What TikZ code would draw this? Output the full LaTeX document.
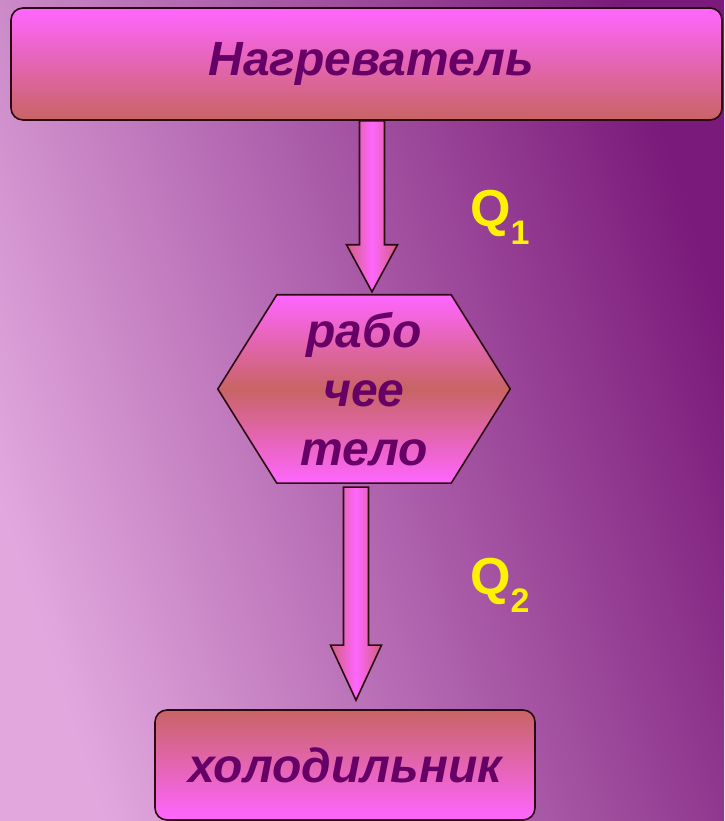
\documentclass[tikz,border=0pt]{standalone}
\usepackage{fontspec}
\setmainfont{Liberation Sans}
\usepackage{tikz}
\usetikzlibrary{positioning, calc, backgrounds}

\definecolor{pinkhi}{HTML}{FF66FF}
\definecolor{salmon}{HTML}{C86464}
\definecolor{armedge}{HTML}{D0607A}
\definecolor{rim}{HTML}{2B0A12}
\definecolor{ink}{HTML}{660066}
\definecolor{bglight}{HTML}{E2A8DE}
\definecolor{bgdark}{HTML}{7A1A7A}

\newcommand{\fatarrow}[3]{%
	\shade[fat] let \p1=(#1), \p2=(#2) in
	(\x1-12.5pt,\y1) -- (\x1+12.5pt,\y1) -- (\x1+12.5pt,\y2+#3) -- (\x1+25.5pt,\y2+#3)
	-- (\x1,\y2) -- (\x1-25.5pt,\y2+#3) -- (\x1-12.5pt,\y2+#3) -- cycle;}

\begin{document}
\begin{tikzpicture}
	[x=1pt, y=1pt, on grid, node distance=100pt,
	 txt/.style={text=ink, font=\fontsize{48}{59}\selectfont\bfseries\itshape},
	 box/.style={txt, rectangle, rounded corners=12pt, draw=rim, line width=1.6pt, inner sep=0pt},
	 heatbox/.style={box, top color=pinkhi, bottom color=salmon, minimum width=711pt, minimum height=112pt},
	 coldbox/.style={box, top color=salmon, bottom color=pinkhi, minimum width=380pt, minimum height=110pt},
	 hexbody/.style={txt, align=center, inner sep=0pt, minimum width=292pt, minimum height=188pt},
	 hexfill/.style={draw=rim, line width=1.6pt, top color=pinkhi, bottom color=pinkhi, middle color=salmon},
	 fat/.style={draw=rim, line width=1.6pt, left color=armedge, right color=armedge, middle color=pinkhi},
	 qlabel/.style={text=yellow, anchor=base west, inner sep=0pt, font=\fontsize{52}{52}\selectfont\bfseries}]
   \begin{scope}[on background layer]
      \shade[left color=bglight, right color=bgdark, shading angle=108] (0,0) rectangle (724,821);
   \end{scope}
   \useasboundingbox (0,0) rectangle (724,821);

   \node[heatbox] (heat) at (366.5,757) {\hspace*{10pt}Нагреватель};
   \node[hexbody] (body) [below=325pt of heat, xshift=-2.5pt] {рабо\\чее\\тело};
   \node[coldbox] (cold) [below=376pt of body, xshift=-19pt] {холодильник};

   \begin{scope}[on background layer]
      \shade[hexfill] (body.west) -- ([xshift=59pt]body.north west) -- ([xshift=-59pt]body.north east)
         -- (body.east) -- ([xshift=-59pt]body.south east) -- ([xshift=59pt]body.south west) -- cycle;
   \end{scope}

   \coordinate (a1s) at ([xshift=5.5pt]heat.south);
   \coordinate (a1e) at ([xshift=8pt, yshift=3pt]body.north);
   \coordinate (a2s) at ([xshift=-8pt, yshift=-4pt]body.south);
   \coordinate (a2e) at ([xshift=11pt, yshift=9pt]cold.north);
   \fatarrow{a1s}{a1e}{47pt}
   \fatarrow{a2s}{a2e}{55pt}

   \node[qlabel] (q1) at (470,594) {Q\raisebox{-18pt}{\fontsize{34}{34}\selectfont 1}};
   \node[qlabel] (q2) at (470,226) {Q\raisebox{-18pt}{\fontsize{34}{34}\selectfont 2}};
\end{tikzpicture}
\end{document}
